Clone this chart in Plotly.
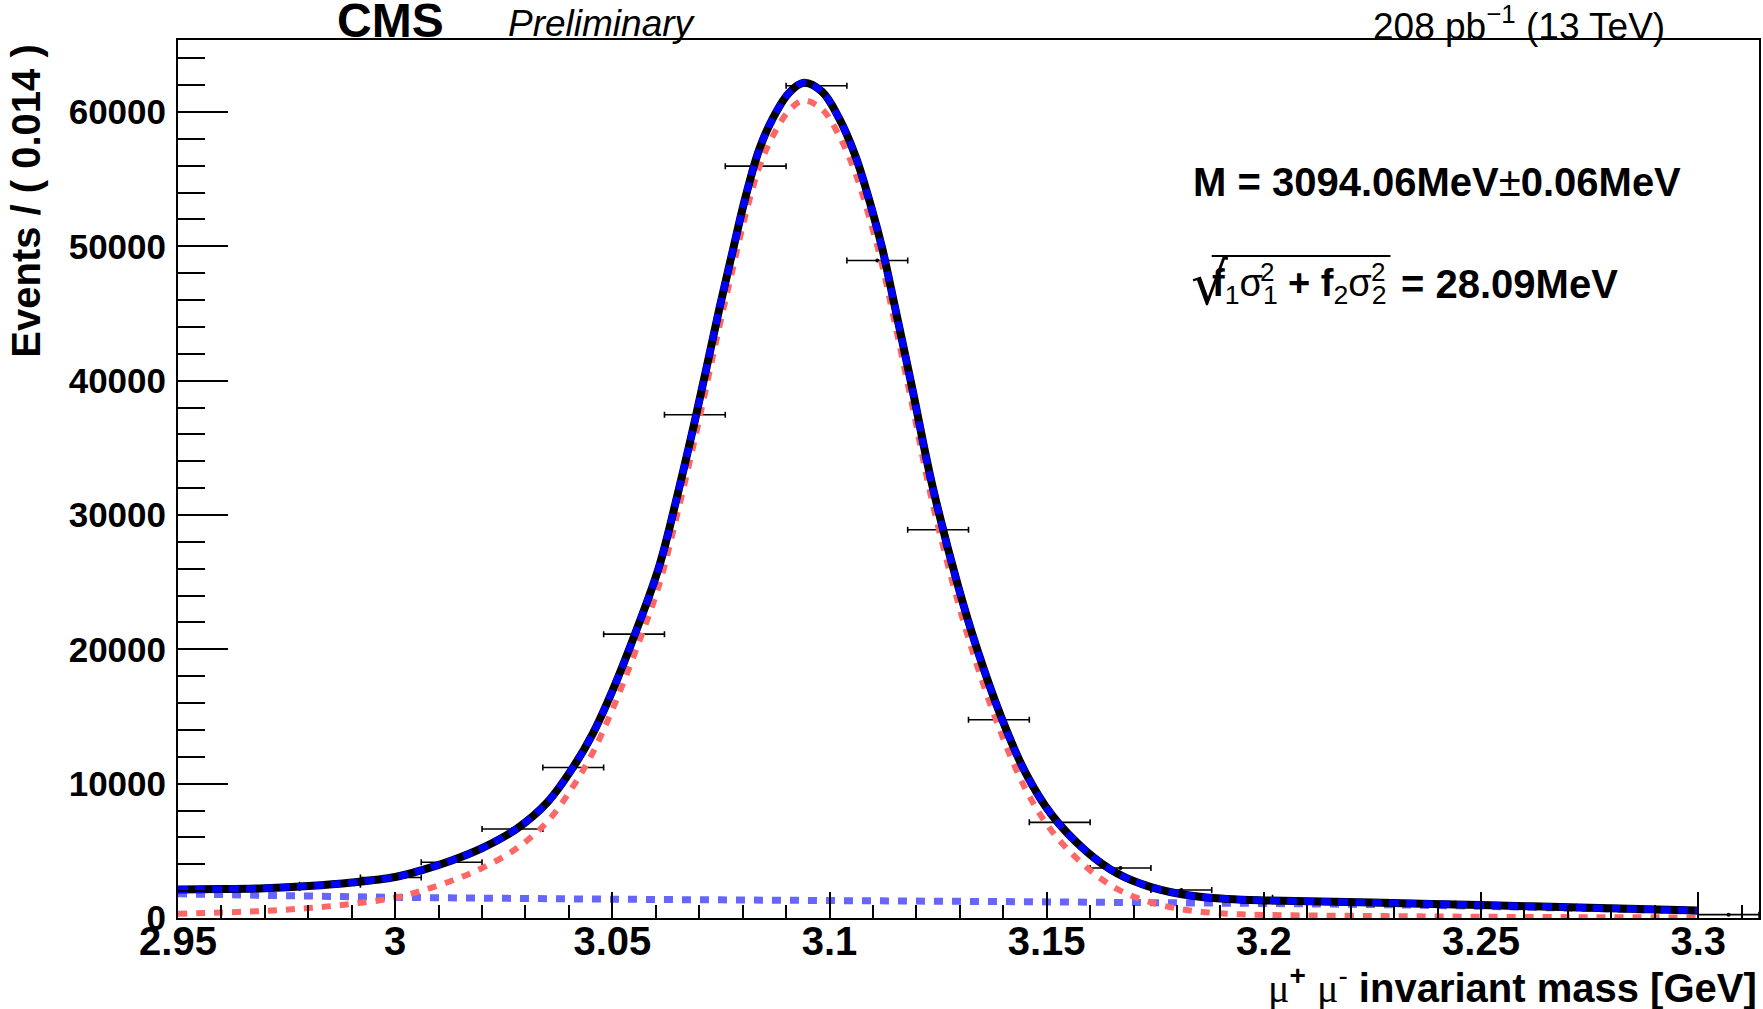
import plotly.graph_objects as go

# ---------------- data ----------------
bin_centers = [2.957, 2.971, 2.985, 2.999, 3.013, 3.027, 3.041, 3.055, 3.069, 3.083,
               3.097, 3.111, 3.125, 3.139, 3.153, 3.167, 3.181, 3.195, 3.209, 3.223,
               3.237, 3.251, 3.265, 3.279, 3.293, 3.307]
events = [2140, 2240, 2480, 3020, 4150, 6630, 11200, 21130, 37460, 55970,
          61950, 48950, 28900, 14760, 7120, 3720, 2080, 1500, 1250, 1160,
          1060, 950, 840, 730, 610, 250]
bin_half_width = [0.007] * len(bin_centers)

fit_mass = [2.950, 2.960, 2.970, 2.980, 2.990, 3.000, 3.006, 3.013, 3.020, 3.028,
            3.035, 3.041, 3.0455, 3.050, 3.0554, 3.0608, 3.065, 3.0692, 3.0746, 3.0776,
            3.0807, 3.0838, 3.0868, 3.0907, 3.0941, 3.0983, 3.1021, 3.1060, 3.1098, 3.1121,
            3.1144, 3.1190, 3.1236, 3.1297, 3.1343, 3.1396, 3.1450, 3.1511, 3.1589, 3.1664,
            3.1740, 3.1829, 3.1917, 3.200, 3.225, 3.250, 3.275, 3.300]
fit_total = [2120, 2150, 2220, 2380, 2640, 3050, 3550, 4280, 5200, 6650,
             8600, 11240, 13730, 16900, 21300, 26200, 31500, 37300, 45300, 49500,
             53720, 57200, 59440, 61430, 62170, 61500, 59600, 56700, 52700, 49900,
             46500, 39500, 32300, 24600, 19700, 14900, 10900, 7700, 5030, 3290,
             2300, 1680, 1420, 1310, 1150, 960, 760, 550]
fit_signal = [320, 410, 530, 740, 1050, 1510, 2025, 2775, 3715, 5190,
              7160, 9815, 12315, 15500, 19910, 24820, 30130, 35940, 43950, 48155,
              52380, 55870, 58115, 60110, 60860, 60195, 58305, 55410, 51420, 48625,
              45230, 38240, 31045, 23360, 18470, 13680, 9690, 6505, 3850, 2130,
              1160, 560, 320, 230, 150, 90, 60, 40]

bkg_mass = [2.950, 2.975, 3.000, 3.025, 3.050, 3.075, 3.100, 3.125, 3.150, 3.175,
            3.200, 3.225, 3.250, 3.275, 3.300]
fit_background = [1800, 1660, 1540, 1465, 1400, 1350, 1300, 1250, 1200, 1140,
                  1080, 1000, 870, 700, 510]

x_range = [2.95, 3.314]
y_range = [0, 65360]

FONT = "Liberation Sans, Arial, sans-serif"

fig = go.Figure()

# data points (drawn first, curves cover them as in the original)
fig.add_trace(go.Scatter(
    x=bin_centers, y=events, mode="markers",
    marker=dict(color="black", size=4),
    error_x=dict(type="data", array=bin_half_width, symmetric=True,
                 color="black", thickness=1.6, width=3),
    showlegend=False, hoverinfo="x+y"))

# background component
fig.add_trace(go.Scatter(
    x=bkg_mass, y=fit_background, mode="lines",
    line=dict(color="#6666FF", width=7, dash="9px,9px", shape="spline", smoothing=1.0),
    showlegend=False))

# signal component
fig.add_trace(go.Scatter(
    x=fit_mass, y=fit_signal, mode="lines",
    line=dict(color="#FF6666", width=6, dash="9px,9px", shape="spline", smoothing=1.0),
    showlegend=False))

# total fit (black solid with blue dashes on top)
fig.add_trace(go.Scatter(
    x=fit_mass, y=fit_total, mode="lines",
    line=dict(color="black", width=8, shape="spline", smoothing=1.0),
    showlegend=False))
fig.add_trace(go.Scatter(
    x=fit_mass, y=fit_total, mode="lines",
    line=dict(color="#0000FF", width=7, dash="10px,7px", shape="spline", smoothing=1.0),
    showlegend=False))

W, H = 1763, 1009
L, R, T, B = 178, 2, 40, 91
pw, ph = W - L - R, H - T - B


def px(x):
    return (x - L) / pw


def py(y):
    return (H - B - y) / ph


fig.update_layout(
    width=W, height=H,
    margin=dict(l=L, r=R, t=T, b=B, pad=0),
    paper_bgcolor="white", plot_bgcolor="white",
    font=dict(family=FONT, color="black"),
    xaxis=dict(
        range=x_range, tickmode="linear", tick0=2.95, dtick=0.05,
        ticks="inside", ticklen=26, tickwidth=1.5, tickcolor="black",
        minor=dict(ticks="inside", ticklen=13, tickwidth=1.5, tickcolor="black",
                   tickmode="linear", tick0=2.95, dtick=0.01),
        showline=True, linecolor="black", linewidth=2, mirror=True,
        showgrid=False, zeroline=False,
        tickfont=dict(size=40, family=FONT, weight="bold"),
        ticklabelstandoff=-13,
    ),
    yaxis=dict(
        range=y_range, tickmode="linear", tick0=0, dtick=10000, tickformat="d",
        ticks="inside", ticklen=50, tickwidth=1.5, tickcolor="black",
        minor=dict(ticks="inside", ticklen=27, tickwidth=1.5, tickcolor="black",
                   tickmode="linear", tick0=0, dtick=2000),
        showline=True, linecolor="black", linewidth=2, mirror=True,
        showgrid=False, zeroline=False,
        tickfont=dict(size=35, family=FONT, weight="bold"),
        ticklabelstandoff=3,
    ),
)


def note(text, x, y, size, xanchor="left", yanchor="middle", family=FONT, **kw):
    d = dict(text=text, x=px(x), y=py(y), xref="paper", yref="paper",
             xanchor=xanchor, yanchor=yanchor, showarrow=False,
             font=dict(size=size, family=family))
    d.update(kw)
    return d


ann = [
    # top labels
    note("<b>CMS</b>", 335, 21, 48),
    note("<i>Preliminary</i>", 506, 23, 37),
    note("208 pb<sup>−1</sup> (13 TeV)", 1669, 23, 37, xanchor="right"),
    # fit results
    note("<b>M = 3094.06MeV</b>±<b>0.06MeV</b>", 1192, 182, 40),
    note("√", 1190, 284, 58, family="DejaVu Sans"),
    note("<b>f</b><sub>1</sub>σ<sub>1</sub>", 1211, 286, 38),
    note("2", 1259, 272, 26),
    note("<b>+ f</b><sub>2</sub>σ<sub>2</sub>", 1287, 286, 38),
    note("2", 1371, 272, 26),
    note("<b>= 28.09MeV</b>", 1401, 284, 40),
    # axis titles
    note("<b>Events / ( 0.014 )</b>", 25, 43, 40, xanchor="center", yanchor="top",
         textangle=-90),
    dict(text="<span style='font-family:Liberation Serif;font-weight:normal'>μ</span><b><sup>+</sup></b>"
              " <span style='font-family:Liberation Serif;font-weight:normal'>μ</span><sup>-</sup>"
              " <b>invariant mass [GeV]</b>",
         x=1.0, y=py(985), xref="paper", yref="paper", xanchor="right",
         yanchor="middle", showarrow=False, font=dict(size=40, family=FONT)),
]
fig.update_layout(annotations=ann)

# radical overline
fig.add_shape(type="line", xref="paper", yref="paper",
              x0=px(1213), x1=px(1392), y0=py(256), y1=py(256),
              line=dict(color="black", width=2))

fig.write_html("out.html", config={"displayModeBar": False},
               post_script="document.body.style.margin='0px';document.body.style.overflow='hidden';")
